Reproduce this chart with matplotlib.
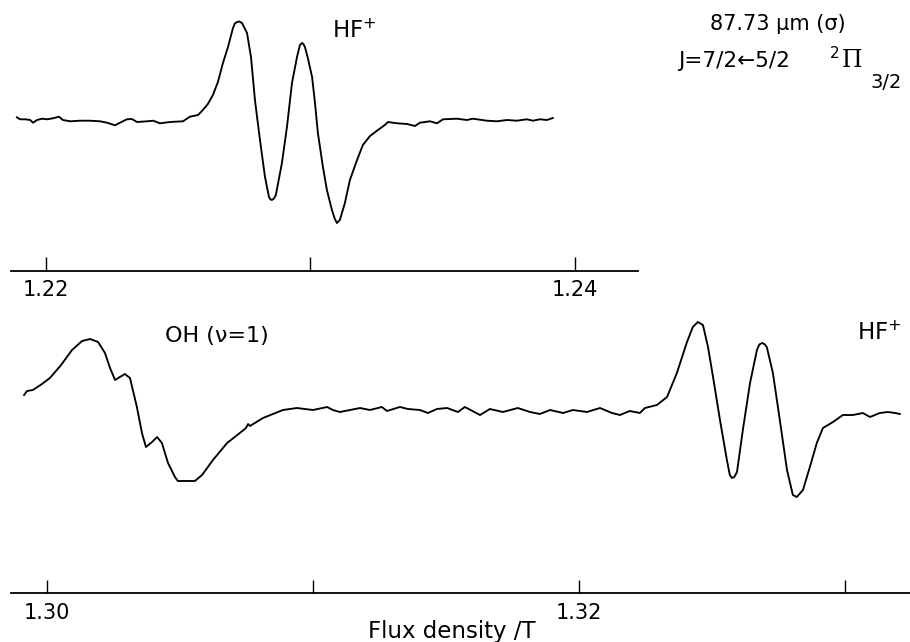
import matplotlib
matplotlib.use("Agg")
import matplotlib.pyplot as plt

plt.rcParams['font.family'] = ['DejaVu Sans']
plt.rcParams['mathtext.fontset'] = 'dejavusans'

# ---------------- data (flux density in T, signal in arbitrary units) -------------
top_B = [1.21890, 1.21902, 1.21921, 1.21940, 1.21951, 1.21966, 1.21985, 1.22004,
         1.22026, 1.22049, 1.22064, 1.22091, 1.22129, 1.22166, 1.22204, 1.22231,
         1.22261, 1.22280, 1.22306, 1.22325, 1.22344, 1.22382, 1.22405, 1.22431,
         1.22469, 1.22518, 1.22544, 1.22575, 1.22593, 1.22612, 1.22631, 1.22650,
         1.22669, 1.22688, 1.22707, 1.22714, 1.22722, 1.22731, 1.22741, 1.22760,
         1.22775, 1.22790, 1.22809, 1.22828, 1.22843, 1.22849, 1.22854, 1.22862,
         1.22869, 1.22892, 1.22911, 1.22930, 1.22949, 1.22960, 1.22968, 1.22973,
         1.22979, 1.22990, 1.23006, 1.23017, 1.23028, 1.23047, 1.23062, 1.23081,
         1.23092, 1.23100, 1.23111, 1.23130, 1.23149, 1.23176, 1.23198, 1.23225,
         1.23255, 1.23281, 1.23293, 1.23327, 1.23365, 1.23395, 1.23414, 1.23452,
         1.23478, 1.23501, 1.23554, 1.23591, 1.23614, 1.23667, 1.23705, 1.23743,
         1.23780, 1.23818, 1.23841, 1.23867, 1.23894, 1.23916]
top_S = [0.27, 0.07, 0.07, 0.0, -0.27, 0.0, 0.13, 0.07,
         0.17, 0.33, 0.0, -0.13, -0.07, -0.07, -0.13, -0.27,
         -0.53, -0.27, 0.07, 0.1, -0.2, -0.13, -0.07, -0.33,
         -0.2, -0.13, 0.33, 0.5, 1.0, 1.6, 2.5, 3.8,
         5.7, 7.3, 9.2, 9.65, 9.8, 9.85, 9.7, 8.7,
         6.3, 2.0, -2.0, -5.7, -7.7, -7.95, -8.0, -7.85,
         -7.5, -4.3, -0.7, 3.7, 6.3, 7.5, 7.7, 7.6,
         7.3, 6.2, 4.3, 1.7, -1.3, -4.7, -7.0, -9.0,
         -9.9, -10.3, -10.0, -8.3, -6.0, -4.0, -2.5, -1.6,
         -1.0, -0.5, -0.2, -0.33, -0.4, -0.6, -0.27, -0.13,
         -0.33, 0.07, 0.13, 0.0, 0.13, -0.07, -0.13, 0.0,
         -0.07, 0.07, -0.07, 0.07, 0.0, 0.2]

bot_B = [1.29914, 1.29925, 1.29947, 1.29981, 1.30011, 1.30053, 1.30094, 1.30132,
         1.30162, 1.30192, 1.30218, 1.30237, 1.30256, 1.30274, 1.30293, 1.30312,
         1.30338, 1.30357, 1.30372, 1.30395, 1.30414, 1.30432, 1.30455, 1.30481,
         1.30492, 1.30526, 1.30556, 1.30583, 1.30624, 1.30677, 1.30725, 1.30748,
         1.30756, 1.30763, 1.30812, 1.30887, 1.30940, 1.31000, 1.31053, 1.31075,
         1.31101, 1.31139, 1.31177, 1.31214, 1.31259, 1.31278, 1.31327, 1.31357,
         1.31402, 1.31432, 1.31466, 1.31504, 1.31545, 1.31571, 1.31628, 1.31665,
         1.31714, 1.31770, 1.31816, 1.31853, 1.31891, 1.31940, 1.31977, 1.32030,
         1.32079, 1.32124, 1.32154, 1.32191, 1.32229, 1.32248, 1.32293, 1.32331,
         1.32368, 1.32406, 1.32428, 1.32447, 1.32466, 1.32485, 1.32504, 1.32530,
         1.32556, 1.32567, 1.32575, 1.32584, 1.32594, 1.32616, 1.32643, 1.32669,
         1.32678, 1.32688, 1.32697, 1.32706, 1.32729, 1.32755, 1.32782, 1.32804,
         1.32819, 1.32842, 1.32868, 1.32894, 1.32917, 1.32955, 1.32992, 1.33030,
         1.33067, 1.33094, 1.33131, 1.33161, 1.33188, 1.33206]
bot_S = [1.5, 1.9, 2.0, 2.6, 3.2, 4.5, 6.0, 6.9,
         7.1, 6.8, 5.7, 4.2, 3.0, 3.3, 3.6, 3.2,
         0.3, -2.3, -3.7, -3.2, -2.7, -3.3, -5.3, -6.7,
         -7.1, -7.1, -7.1, -6.5, -5.0, -3.3, -2.3, -1.8,
         -1.4, -1.6, -0.8, 0.0, 0.2, 0.0, 0.3, 0.0,
         -0.2, 0.0, 0.2, 0.0, 0.3, -0.1, 0.3, 0.1,
         0.0, -0.3, 0.1, 0.2, -0.2, 0.3, -0.5, 0.1,
         -0.2, 0.2, -0.2, -0.4, 0.0, -0.3, 0.0, -0.2,
         0.2, -0.3, -0.5, -0.1, -0.3, 0.2, 0.5, 1.3,
         3.7, 6.8, 8.3, 8.8, 8.5, 6.3, 3.3, -1.0,
         -5.0, -6.5, -6.8, -6.7, -6.2, -2.0, 2.7, 6.0,
         6.55, 6.7, 6.6, 6.3, 3.7, -1.0, -6.0, -8.5,
         -8.7, -8.0, -5.7, -3.3, -1.8, -1.2, -0.5, -0.5,
         -0.3, -0.7, -0.3, -0.2, -0.3, -0.4]

top_ticks = [1.22, 1.23, 1.24]
top_ticklabels = ["1.22", "", "1.24"]
bot_ticks = [1.30, 1.31, 1.32, 1.33]
bot_ticklabels = ["1.30", "", "1.32", ""]

# ---------------- figure ----------------
W, H = 910, 642
fig = plt.figure(figsize=(W / 100, H / 100), dpi=100)


def fx(px):
    return px / W


def fy(py):
    return 1 - py / H


def style(ax, ticks, labels, ticklen, pad):
    for s in ("top", "left", "right"):
        ax.spines[s].set_visible(False)
    ax.spines["bottom"].set_linewidth(1.3)
    ax.set_yticks([])
    ax.set_xticks(ticks)
    ax.set_xticklabels(labels)
    ax.tick_params(axis="x", direction="in", length=ticklen, width=1.0,
                   labelsize=15, pad=pad, colors="black")
    ax.patch.set_alpha(0)


ax1 = fig.add_axes([fx(11), fy(271), fx(627), 271 / H])
ax1.plot(top_B, top_S, color="black", lw=1.35, solid_joinstyle="round")
ax1.set_xlim(1.218677, 1.242382)
ax1.set_ylim(-15.1, 12.0)
style(ax1, top_ticks, top_ticklabels, 10, 6.5)

ax2 = fig.add_axes([fx(11), fy(593), fx(899), 303 / H])
ax2.plot(bot_B, bot_S, color="black", lw=1.35, solid_joinstyle="round")
ax2.set_xlim(1.298647, 1.332444)
ax2.set_ylim(-18.3, 12.0)
style(ax2, bot_ticks, bot_ticklabels, 9.4, 7.2)

# ---------------- text ----------------
fig.text(fx(452), fy(638), "Flux density /T", ha="center", va="baseline", fontsize=16.5)
fig.text(fx(332), fy(38), r"HF$^{+}$", ha="left", va="baseline", fontsize=16.5)
fig.text(fx(857), fy(340), r"HF$^{+}$", ha="left", va="baseline", fontsize=16.5)
fig.text(fx(165), fy(342), "OH (ν=1)", ha="left", va="baseline", fontsize=16)
fig.text(fx(710), fy(30), "87.73 μm (σ)", ha="left", va="baseline", fontsize=15)
fig.text(fx(678), fy(67), "J=7/2←5/2", ha="left", va="baseline", fontsize=15.5)
fig.text(fx(830), fy(58), "2", ha="left", va="baseline", fontsize=11)
fig.text(fx(842), fy(67), "Π", ha="left", va="baseline", fontsize=17,
         family=["DejaVu Serif"])
fig.text(fx(870), fy(88), "3/2", ha="left", va="baseline", fontsize=14)

fig.savefig("out.png", dpi=100)
